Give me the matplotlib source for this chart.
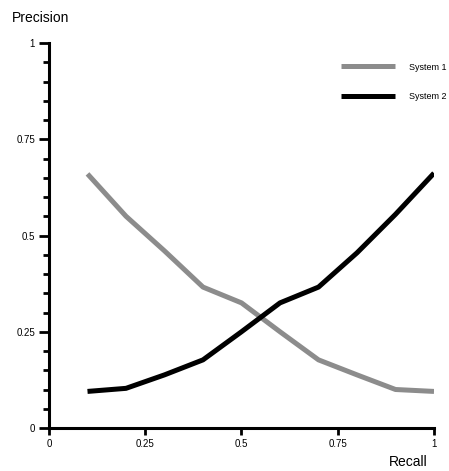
import matplotlib
matplotlib.use("Agg")
import matplotlib.pyplot as plt
from matplotlib.ticker import MultipleLocator

plt.rcParams['font.family'] = ['Liberation Sans', 'DejaVu Sans']

recall = [0.1, 0.2, 0.3, 0.4, 0.5, 0.6, 0.7, 0.8, 0.9, 1.0]
system1 = [0.66, 0.55, 0.46, 0.366, 0.325, 0.25, 0.177, 0.138, 0.1, 0.095]
system2 = [0.095, 0.103, 0.138, 0.177, 0.25, 0.325, 0.366, 0.455, 0.555, 0.662]
tick_vals = [0, 0.25, 0.5, 0.75, 1]
tick_labels = ['0', '0.25', '0.5', '0.75', '1']

W, H = 449, 471
fig = plt.figure(figsize=(W / 100, H / 100), dpi=100)
ax = fig.add_axes([49 / W, 1 - 428 / H, 385 / W, 385 / H])

ax.plot(recall, system1, color='#8c8c8c', lw=3.6, label='System 1', solid_capstyle='butt')
ax.plot(recall, system2, color='black', lw=3.6, label='System 2', solid_capstyle='butt')

ax.set_xlim(0, 1)
ax.set_ylim(0, 1)
for s in ['top', 'right']:
    ax.spines[s].set_visible(False)
for s in ['left', 'bottom']:
    ax.spines[s].set_linewidth(2.2)

ax.set_xticks(tick_vals)
ax.set_xticklabels(tick_labels)
ax.set_yticks(tick_vals)
ax.set_yticklabels(tick_labels)
ax.yaxis.set_minor_locator(MultipleLocator(0.05))
ax.tick_params(axis='both', which='major', direction='out', length=5, width=2, labelsize=7, pad=3)
ax.tick_params(axis='y', which='minor', direction='out', length=4, width=2)
ax.tick_params(axis='y', which='major', length=7)

fig.text(12 / W, 1 - 18 / H, 'Precision', fontsize=10, va='center', ha='left')
fig.text(428 / W, 1 - 462 / H, 'Recall', fontsize=10, va='center', ha='right')

ax.legend(loc='center left', bbox_to_anchor=(333 / W, 1 - 82 / H), bbox_transform=fig.transFigure,
          frameon=False, fontsize=6.5, handlelength=6.0, handletextpad=1.5, labelspacing=2.3)

fig.savefig('out.png', dpi=100)
